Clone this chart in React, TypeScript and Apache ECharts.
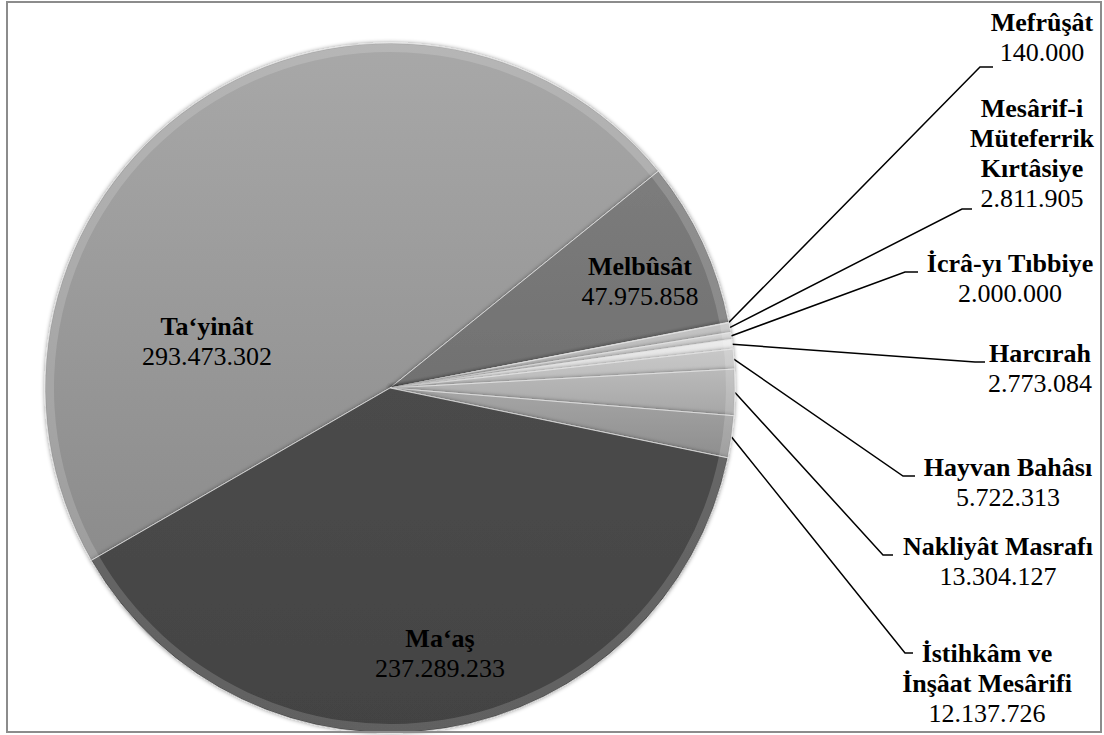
import React, { useEffect, useRef } from 'react';
import * as echarts from 'echarts';

// ---- data ----
const categories = [
  'Ta‘yinât',
  'Melbûsât',
  'Mefrûşât',
  'Mesârif-i\nMüteferrik\nKırtâsiye',
  'İcrâ-yı Tıbbiye',
  'Harcırah',
  'Hayvan Bahâsı',
  'Nakliyât Masrafı',
  'İstihkâm ve\nİnşâat Mesârifi',
  'Ma‘aş',
];
const values = [
  293473302, 47975858, 140000, 2811905, 2000000, 2773084, 5722313, 13304127, 12137726, 237289233,
];

// ---- styles / layout ----
const sliceColors: string[][] = [
  ['#a8a8a8', '#8c8c8c'],
  ['#7c7c7c', '#717171'],
  ['#d0d0d0', '#c0c0c0'],
  ['#c4c4c4', '#b4b4b4'],
  ['#d4d4d4', '#c4c4c4'],
  ['#ececec', '#d8d8d8'],
  ['#c8c8c8', '#bababa'],
  ['#bababa', '#a6a6a6'],
  ['#a6a6a6', '#8e8e8e'],
  ['#4b4b4b', '#434343'],
];
// label anchors: [center x, first baseline y]
const labelAnchors: number[][] = [
  [207, 335], [640, 275], [1042, 31], [1032, 117], [1010, 272],
  [1040, 362], [1008, 476], [998, 555], [987, 662], [440, 647],
];
// leader line horizontal end segment: [x start, x end, y]; null = label inside slice
const leaderEnds: (number[] | null)[] = [
  null, null, [980, 993, 67], [962, 972, 209], [905, 918, 272],
  [975, 985, 362], [903, 915, 476], [883, 893, 555], [905, 913, 653], null,
];

const FONT_B = 'Liberation Serif';
const FONT_V = 'Times New Roman';
const FS = 26;
const LH = 30;
const BASE_OFF = 24;

const fmt = (v: number) => String(v).replace(/\B(?=(\d{3})+(?!\d))/g, '.');

export default function App() {
  const ref = useRef<HTMLDivElement>(null);
  useEffect(() => {
    if (!ref.current) return;
    const chart = echarts.init(ref.current, null, { renderer: 'svg' });
    const data = categories.map((name, i) => ({
      name,
      value: values[i],
      itemStyle: {
        color: new echarts.graphic.LinearGradient(0, 0, 0, 1, [
          { offset: 0, color: sliceColors[i][0] },
          { offset: 1, color: sliceColors[i][1] },
        ]),
      },
    }));
    const rimData = categories.map((name, i) => ({ name, value: values[i] }));
    chart.setOption({
      animation: false,
      graphic: [
        {
          type: 'rect',
          shape: { x: 7, y: 2, width: 1094, height: 730 },
          style: { fill: 'none', stroke: '#8c8c8c', lineWidth: 2 },
          z: 100,
        },
      ],
      series: [
        {
          type: 'pie',
          center: [390, 388],
          radius: 345,
          startAngle: 210,
          clockwise: true,
          itemStyle: {
            borderColor: 'rgba(235,235,235,0.7)',
            borderWidth: 1,
            shadowBlur: 4,
            shadowColor: 'rgba(0,0,0,0.45)',
          },
          label: {
            show: true,
            formatter: (p: any) => {
              const lines = String(p.name).split('\n').map((l: string) => `{b|${l}}`);
              return lines.join('\n') + `\n{v|${fmt(p.value)}}`;
            },
            rich: {
              b: { fontFamily: FONT_B, fontWeight: 'bold', fontSize: FS, lineHeight: LH, color: '#000' },
              v: { fontFamily: FONT_V, fontWeight: 400, fontSize: FS, lineHeight: LH, color: '#000' },
            },
          },
          labelLine: {
            show: true,
            lineStyle: { color: '#000', width: 1.5 },
          },
          labelLayout: (p: any) => {
            const i = p.dataIndex;
            const [cx, by] = labelAnchors[i];
            const out: any = { x: cx, y: by - BASE_OFF, align: 'center', verticalAlign: 'top' };
            const le = leaderEnds[i];
            if (p.labelLinePoints) {
              const s = p.labelLinePoints[0];
              out.labelLinePoints = le ? [s, [le[0], le[2]], [le[1], le[2]]] : [s, s, s];
            }
            return out;
          },
          data,
        },
        {
          type: 'pie',
          center: [390, 388],
          radius: [336, 344],
          startAngle: 210,
          clockwise: true,
          silent: true,
          z: 3,
          label: { show: false },
          labelLine: { show: false },
          itemStyle: { color: 'rgba(255,255,255,0.16)', borderWidth: 0 },
          data: rimData,
        },
      ],
    });
    return () => chart.dispose();
  }, []);
  return (
    <div
      ref={ref}
      style={{ position: 'absolute', left: 0, top: 0, width: 1104, height: 735, background: '#fff' }}
    />
  );
}
